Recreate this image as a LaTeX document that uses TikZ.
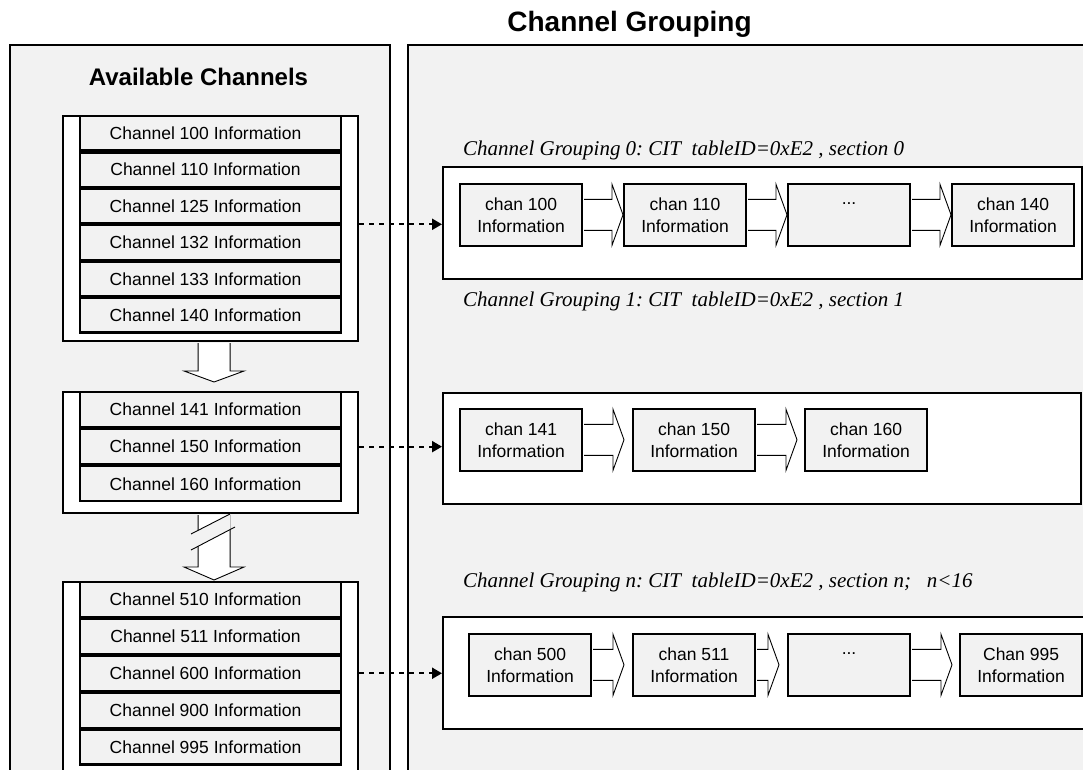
\documentclass[tikz,border=0pt]{standalone}
\usepackage{fontspec}
\setmainfont{Liberation Serif}
\setsansfont{Liberation Sans}
\usetikzlibrary{arrows.meta,calc}
\definecolor{panel}{HTML}{F2F2F2}
\frenchspacing

% horizontal block arrow from box #1 to box #2, tip stopping #3 before #2
\newcommand\hblock[3]{%
  \draw[blockarrow] let \p1=(#1.east), \p2=(#2.west) in
    (\x1+1.1pt,\y1+15.5pt) -- (\x2-#3-11pt,\y1+15.5pt) -- (\x2-#3-11pt,\y1+30.5pt)
    -- (\x2-#3,\y1) -- (\x2-#3-11pt,\y1-30.5pt) -- (\x2-#3-11pt,\y1-15.5pt)
    -- (\x1+1.1pt,\y1-15.5pt);}
% vertical block arrow from coordinate #1 (shaft top) down to tip #2, head length #3
\newcommand\vblock[3]{%
  \draw[blockarrow] let \p1=(#1), \p2=(#2) in
    (\x1-16pt,\y1) -- (\x1-16pt,\y2+#3) -- (\x1-30pt,\y2+#3) -- (\x2,\y2)
    -- (\x1+30pt,\y2+#3) -- (\x1+16pt,\y2+#3) -- (\x1+16pt,\y1);}

\begin{document}
\begin{tikzpicture}[x=1pt,y=-1pt,
  heavy/.style={line width=2.1pt},
  blockarrow/.style={draw,fill=white,line width=0.9pt},
  panelframe/.style={draw,heavy,fill=panel},
  holder/.style={draw,heavy,fill=white,inner sep=0pt,anchor=north west,minimum width=295pt},
  grouphold/.style={draw,heavy,fill=white,inner sep=0pt,anchor=north west},
  rowbox/.style={draw,heavy,fill=panel,inner sep=0pt,anchor=north west,
    minimum width=261pt,minimum height=#1,
    font=\sffamily\fontsize{17.5}{21}\selectfont},
  chanbox/.style={draw,heavy,fill=panel,inner sep=0pt,anchor=north west,
    minimum width=122pt,minimum height=61.5pt,align=center,
    font=\sffamily\fontsize{17.5}{22}\selectfont},
  title/.style={font=\sffamily\bfseries\fontsize{#1}{#1}\selectfont,inner sep=0pt,anchor=base},
  caption/.style={font=\itshape\fontsize{21}{25}\selectfont,inner sep=0pt,anchor=base west},
  dasharrow/.style={heavy,dash pattern=on 5pt off 5pt,
    -{Triangle[length=10pt,width=11pt]}},
]
\useasboundingbox (0,0) rectangle (1083,770);
\clip (0,0) rectangle (1083,770);
\fill[white] (0,0) rectangle (1083,770);

% the two panels
\path[panelframe] (10,45) rectangle (390,800);
\path[panelframe] (408,45) rectangle (1100,800);

\node[title=28] (ttlgroup) at (629.5,32) {Channel Grouping};
\node[title=24] (ttlavail) at (198.5,86) {Available Channels};

% available channel lists
\node[holder,minimum height=225pt] (c1) at (62,115) {};
\node[holder,minimum height=121pt] (c2) at (62,391) {};
\node[holder,minimum height=230pt] (c3) at (62,581) {};

\node[rowbox=34.33pt] (r100) at (79,115) {\hspace*{-10pt}Channel 100 Information};
\node[rowbox=34.33pt] (r110) at (r100.south west) {\hspace*{-10pt}Channel 110 Information};
\node[rowbox=34.33pt] (r125) at (r110.south west) {\hspace*{-10pt}Channel 125 Information};
\node[rowbox=34.33pt] (r132) at (r125.south west) {\hspace*{-10pt}Channel 132 Information};
\node[rowbox=34.33pt] (r133) at (r132.south west) {\hspace*{-10pt}Channel 133 Information};
\node[rowbox=34.33pt] (r140) at (r133.south west) {\hspace*{-10pt}Channel 140 Information};

\node[rowbox=35pt] (r141) at (79,391) {\hspace*{-10pt}Channel 141 Information};
\node[rowbox=35pt] (r150) at (r141.south west) {\hspace*{-10pt}Channel 150 Information};
\node[rowbox=35pt] (r160) at (r150.south west) {\hspace*{-10pt}Channel 160 Information};

\node[rowbox=34.8pt] (r510) at (79,581) {\hspace*{-10pt}Channel 510 Information};
\node[rowbox=34.8pt] (r511) at (r510.south west) {\hspace*{-10pt}Channel 511 Information};
\node[rowbox=34.8pt] (r600) at (r511.south west) {\hspace*{-10pt}Channel 600 Information};
\node[rowbox=34.8pt] (r900) at (r600.south west) {\hspace*{-10pt}Channel 900 Information};
\node[rowbox=34.8pt] (r995) at (r900.south west) {\hspace*{-10pt}Channel 995 Information};

% block arrows between the lists
\coordinate (a1s) at ($(c1.south)+(3.5,1.1)$);
\coordinate (a1t) at ($(c2.north)+(3.5,-9)$);
\coordinate (a2s) at ($(c2.south)+(3.5,1.1)$);
\coordinate (a2t) at ($(c3.north)+(3.5,-1)$);
\vblock{a1s}{a1t}{11pt}
\vblock{a2s}{a2t}{13pt}
% break in the second arrow
\fill[panel] (196,531.5) -- (230.5,513.8) -- (230.5,529.6) -- (196,547.4) -- cycle;
\draw[line width=0.9pt] (191,534) -- (230,514) (191,550) -- (235,527);

% captions
\node[caption] (cap0) at (463,156) {Channel Grouping 0: CIT\ \ tableID=0xE2 , section 0};
\node[caption] (cap1) at (463,306) {Channel Grouping 1: CIT\ \ tableID=0xE2 , section 1};
\node[caption] (cap2) at (463,587) {Channel Grouping n: CIT\ \ tableID=0xE2 , section n;\ \ \ n<16};

% channel groupings
\node[grouphold,minimum width=639pt,minimum height=112pt] (g0) at (442,166) {};
\node[grouphold,minimum width=638pt,minimum height=111pt] (g1) at (442,392) {};
\node[grouphold,minimum width=658pt,minimum height=112pt] (g2) at (442,616) {};

\node[chanbox] (k100) at (459,183) {chan 100\\Information};
\node[chanbox] (k110) at (623,183) {chan 110\\Information};
\node[chanbox] (k0dots) at (787,183) {...\\\phantom{Information}};
\node[chanbox] (k140) at (951,183) {chan 140\\Information};

\node[chanbox] (k141) at (459,408) {chan 141\\Information};
\node[chanbox] (k150) at (632,408) {chan 150\\Information};
\node[chanbox] (k160) at (804,408) {chan 160\\Information};

\node[chanbox] (k500) at (468,633) {chan 500\\Information};
\node[chanbox] (k511) at (632,633) {chan 511\\Information};
\node[chanbox] (kndots) at (787,633) {...\\\phantom{Information}};
\node[chanbox] (k995) at (959,633) {Chan 995\\Information};

\hblock{k100}{k110}{0pt}
\hblock{k110}{k0dots}{0pt}
\hblock{k0dots}{k140}{0pt}
\hblock{k141}{k150}{8pt}
\hblock{k150}{k160}{7pt}
\hblock{k500}{k511}{8pt}
\hblock{k511}{kndots}{8pt}
\hblock{kndots}{k995}{7pt}

% links from the lists to their groupings
\draw[dasharrow] (r125.south -| c1.east) -- (r125.south -| g0.west);
\draw[dasharrow] (r150.east -| c2.east) -- (r150.east -| g1.west);
\draw[dasharrow] (r600.east -| c3.east) -- (r600.east -| g2.west);
\end{tikzpicture}
\end{document}
